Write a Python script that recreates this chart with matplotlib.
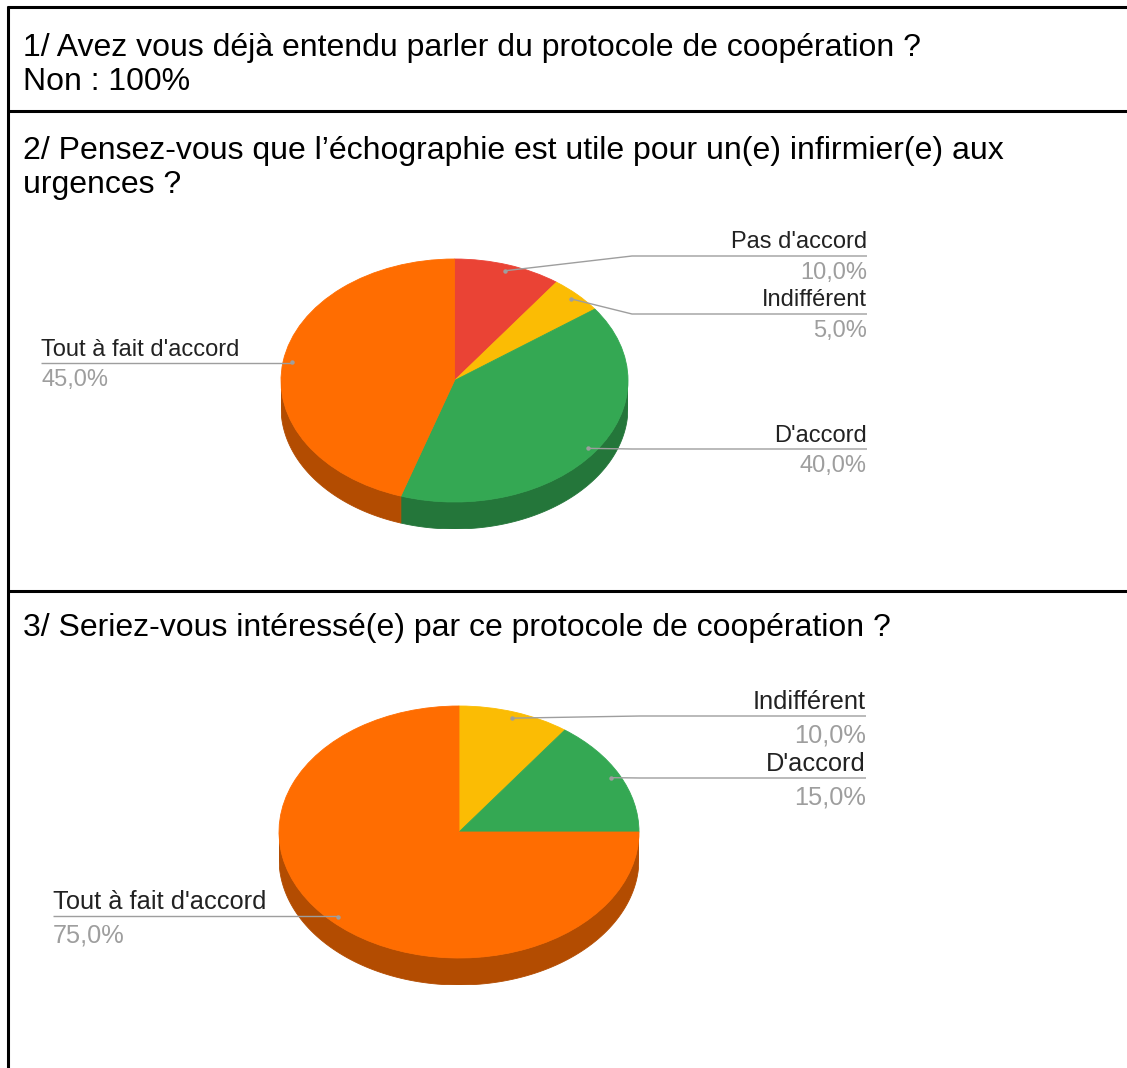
import numpy as np
import matplotlib
matplotlib.use("Agg")
import matplotlib.pyplot as plt
from matplotlib.patches import Polygon
from matplotlib.colors import to_rgb

plt.rcParams['font.family'] = ['Liberation Sans', 'DejaVu Sans']

W, H = 1127, 1068

# ---- content -------------------------------------------------------------
q1_title = "1/ Avez vous déjà entendu parler du protocole de coopération ?"
q1_answer = "Non : 100%"
q2_title = ["2/ Pensez-vous que l’échographie est utile pour un(e) infirmier(e) aux",
            "urgences ?"]
q3_title = "3/ Seriez-vous intéressé(e) par ce protocole de coopération ?"

q2_labels = ["Pas d'accord", "Indifférent", "D'accord", "Tout à fait d'accord"]
q2_values = [10.0, 5.0, 40.0, 45.0]
q2_colors = ["#ea4335", "#fbbc04", "#34a853", "#ff6d01"]

q3_labels = ["Indifférent", "D'accord", "Tout à fait d'accord"]
q3_values = [10.0, 15.0, 75.0]
q3_colors = ["#fbbc04", "#34a853", "#ff6d01"]

# ---- layout (pixels, origin top-left) -----------------------------------
pie_geo = [
    dict(cx=454.5, cy=380.5, rx=173.5, ry=121.5, depth=27),
    dict(cx=459.0, cy=832.0, rx=180.0, ry=126.0, depth=27),
]
# per label: side, line y, bend x, end x
q2_layout = [("right", 256, 632, 867), ("right", 314, 632, 867),
             ("right", 449, 632, 867), ("left", 363, None, 41)]
q3_layout = [("right", 716, 640, 866), ("right", 778, 640, 866),
             ("left", 916, None, 53)]
label_font = [17, 18.3]
name_off = [-7.5, -6.8]
pct_off = [23.2, 26.5]

fig = plt.figure(figsize=(W / 100, H / 100), dpi=100)
fig.patch.set_facecolor("white")

# overlay axes in pixel coordinates
ax0 = fig.add_axes([0, 0, 1, 1], zorder=5)
ax0.set_xlim(0, W)
ax0.set_ylim(H, 0)
ax0.axis("off")


def darker(c, k=0.7):
    r, g, b = to_rgb(c)
    return (r * k, g * k, b * k)


def fmt_pct(v):
    return f"{v:.1f}".replace(".", ",") + "%"


def draw_pie(geo, values, colors, labels, layout, fs, noff, poff):
    cx, cy, rx, ry, dep = geo["cx"], geo["cy"], geo["rx"], geo["ry"], geo["depth"]
    d = dep / ry
    left = (cx - rx) / W
    bottom = (H - (cy + ry + dep)) / H
    ax = fig.add_axes([left, bottom, 2 * rx / W, (2 * ry + dep) / H], zorder=2)
    ax.pie(values, colors=colors, startangle=90, counterclock=False,
           radius=1, center=(0, 0),
           wedgeprops=dict(linewidth=0.6, edgecolor=None))
    for w, c in zip(ax.patches, colors):
        w.set_edgecolor(c)
        w.set_zorder(2)
    ax.set_aspect("auto")
    ax.set_xlim(-1, 1)
    ax.set_ylim(-1 - d, 1)
    ax.axis("off")

    # side wall of the disc (front half only)
    total = float(sum(values))
    start = 0.0
    mids = []
    for v, c in zip(values, colors):
        a0 = start / total * 360.0
        a1 = (start + v) / total * 360.0
        mids.append(np.radians((a0 + a1) / 2))
        lo, hi = max(a0, 90.0), min(a1, 270.0)
        if hi > lo:
            t = np.radians(np.linspace(lo, hi, 120))
            xs, ys = np.sin(t), np.cos(t)
            pts = np.concatenate([np.column_stack([xs, ys]),
                                  np.column_stack([xs[::-1], ys[::-1] - d])])
            ax.add_patch(Polygon(pts, closed=True, facecolor=darker(c),
                                 edgecolor=darker(c), linewidth=0.6, zorder=1))
        start += v

    # leader lines and labels
    fig.canvas.draw()
    inv = ax0.transData.inverted()
    for m, lab, v, (side, ly, bx, ex) in zip(mids, labels, values, layout):
        ax_pt = (0.95 * np.sin(m), 0.95 * np.cos(m))
        px, py = inv.transform(ax.transData.transform(ax_pt))
        if side == "right":
            xs = [px, bx, ex]
            ys = [py, ly, ly]
            ha, tx = "right", ex
        else:
            xs = [px, ex]
            ys = [ly, ly]
            ha, tx = "left", ex
        ax0.plot(xs, ys, color="#9e9e9e", lw=1.0, solid_capstyle="butt")
        ax0.plot([px], [py], "o", color="#9e9e9e", ms=3.2, mec="none")
        ax0.text(tx, ly + noff, lab, ha=ha, va="baseline", fontsize=fs,
                 color="#222222")
        ax0.text(tx, ly + poff, fmt_pct(v), ha=ha, va="baseline", fontsize=fs,
                 color="#9e9e9e")


draw_pie(pie_geo[0], q2_values, q2_colors, q2_labels, q2_layout,
         label_font[0], name_off[0], pct_off[0])
draw_pie(pie_geo[1], q3_values, q3_colors, q3_labels, q3_layout,
         label_font[1], name_off[1], pct_off[1])

# table borders
blw = 2.2
ax0.plot([7.5, 7.5], [6, H], color="black", lw=blw, solid_capstyle="butt")
for y in (7, 111, 590.5):
    ax0.plot([6.5, W], [y, y], color="black", lw=blw, solid_capstyle="butt")

# question texts
qfs = 23
ax0.text(23, 56, q1_title, fontsize=qfs, color="black", va="baseline")
ax0.text(23, 90.5, q1_answer, fontsize=qfs, color="black", va="baseline")
ax0.text(23, 159, q2_title[0], fontsize=qfs, color="black", va="baseline")
ax0.text(23, 193, q2_title[1], fontsize=qfs, color="black", va="baseline")
ax0.text(23, 636, q3_title, fontsize=qfs, color="black", va="baseline")

fig.savefig("out.png", dpi=100)
